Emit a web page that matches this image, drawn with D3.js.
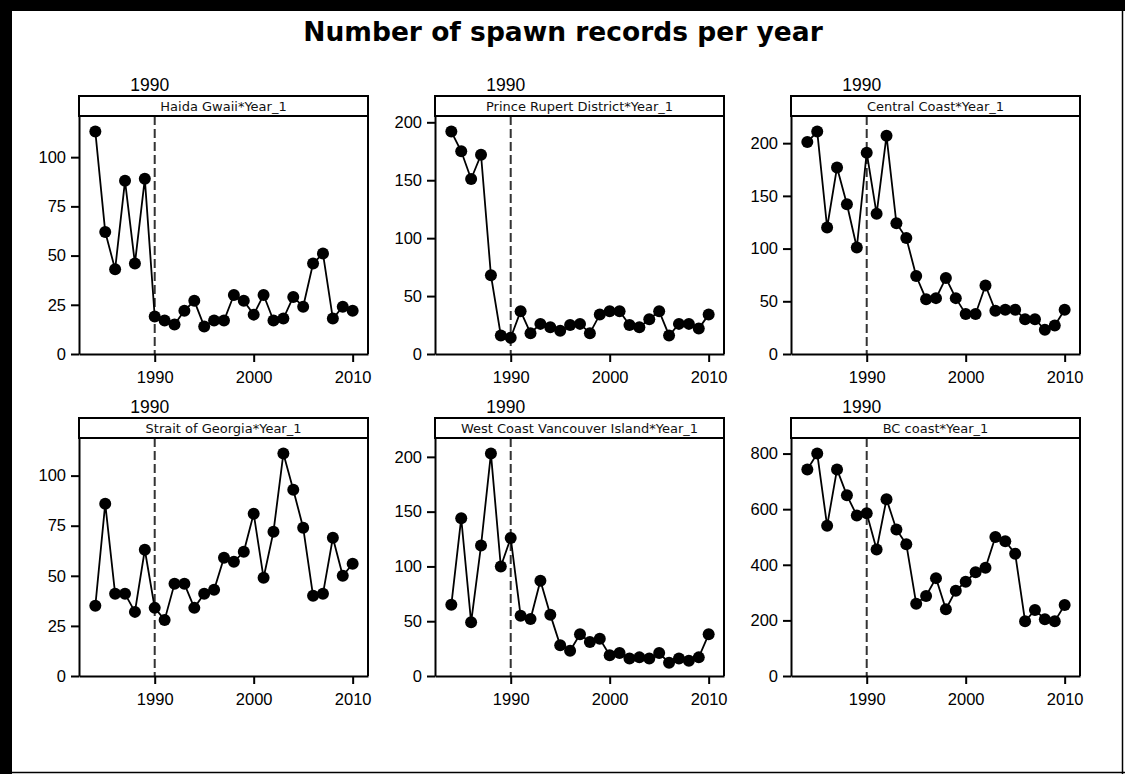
<!DOCTYPE html>
<html>
<head>
<meta charset="utf-8">
<script src="https://cdn.jsdelivr.net/npm/d3@7"></script>
<style>
  body { margin: 0; background: #fff; }
  svg { display: block; }
</style>
</head>
<body>
<svg id="chart" width="1125" height="774"></svg>
<script>
// Spawn record counts per survey year, by region
const years = [1984, 1985, 1986, 1987, 1988, 1989, 1990, 1991, 1992, 1993, 1994, 1995, 1996,
               1997, 1998, 1999, 2000, 2001, 2002, 2003, 2004, 2005, 2006, 2007, 2008, 2009, 2010];

const regionNames = ["Haida Gwaii", "Prince Rupert District", "Central Coast",
                     "Strait of Georgia", "West Coast Vancouver Island", "BC coast"];

const haidaGwaii   = [113, 62, 43, 88, 46, 89, 19, 17, 15, 22, 27, 14, 17, 17, 30, 27, 20, 30, 17, 18, 29, 24, 46, 51, 18, 24, 22];
const princeRupert = [192, 175, 151, 172, 68, 16, 14, 37, 18, 26, 23, 20, 25, 26, 18, 34, 37, 37, 25, 23, 30, 37, 16, 26, 26, 22, 34];
const centralCoast = [201, 211, 120, 177, 142, 101, 191, 133, 207, 124, 110, 74, 52, 53, 72, 53, 38, 38, 65, 41, 42, 42, 33, 33, 23, 27, 42];
const straitGeorgia = [35, 86, 41, 41, 32, 63, 34, 28, 46, 46, 34, 41, 43, 59, 57, 62, 81, 49, 72, 111, 93, 74, 40, 41, 69, 50, 56];
const westCoastVI  = [65, 144, 49, 119, 203, 100, 126, 55, 52, 87, 56, 28, 23, 38, 31, 34, 19, 21, 16, 17, 16, 21, 12, 16, 14, 17, 38];
const bcCoast      = [743, 800, 540, 743, 650, 577, 585, 455, 636, 527, 474, 260, 288, 352, 240, 307, 339, 373, 389, 500, 485, 440, 197, 237, 204, 197, 255];

const seriesValues = [haidaGwaii, princeRupert, centralCoast, straitGeorgia, westCoastVI, bcCoast];

const yTickSets = [
  [0, 25, 50, 75, 100],
  [0, 50, 100, 150, 200],
  [0, 50, 100, 150, 200],
  [0, 25, 50, 75, 100],
  [0, 50, 100, 150, 200],
  [0, 200, 400, 600, 800]
];
const xTickValues = [1990, 2000, 2010];
const referenceYear = 1990;
const titleText = "Number of spawn records per year";
const panelSuffix = "*Year_1";

// ---- layout ----
const svg = d3.select("#chart");
const colLeft = [79, 435, 791];
const rowTop = [96, 418];
const panelW = 289;
const headerH = 20;
const plotH = 238;

// page frame: heavy left/top edges, thin right/bottom edges
svg.append("rect").attr("x", 0).attr("y", 0).attr("width", 12).attr("height", 774).attr("fill", "#000");
svg.append("rect").attr("x", 0).attr("y", 0).attr("width", 1125).attr("height", 11).attr("fill", "#000");
svg.append("line").attr("x1", 1122.5).attr("x2", 1122.5).attr("y1", 0).attr("y2", 774)
  .attr("stroke", "#000").attr("stroke-width", 1.5);
svg.append("line").attr("x1", 0).attr("x2", 1125).attr("y1", 772.5).attr("y2", 772.5)
  .attr("stroke", "#000").attr("stroke-width", 1.5);

svg.append("text")
  .attr("x", 563).attr("y", 41)
  .attr("text-anchor", "middle")
  .attr("font-family", "DejaVu Sans, sans-serif")
  .attr("font-weight", "bold")
  .attr("font-size", 26.5)
  .text(titleText);

seriesValues.forEach((vals, i) => {
  const px = colLeft[i % 3];
  const py = rowTop[Math.floor(i / 3)];
  const g = svg.append("g").attr("transform", `translate(${px},${py + headerH})`);

  const x = d3.scaleLinear().domain([1982.35, 2011.55]).range([0, panelW]);
  const y = d3.scaleLinear().domain([0, d3.max(vals) * 1.07]).range([plotH, 0]);

  // reference line for the chosen year
  g.append("line")
    .attr("x1", x(referenceYear)).attr("x2", x(referenceYear))
    .attr("y1", 0).attr("y2", plotH)
    .attr("stroke", "#333").attr("stroke-width", 2)
    .attr("stroke-dasharray", "9,4");

  // reference label above the panel
  svg.append("text")
    .attr("x", px + x(referenceYear) - 5).attr("y", py - 5)
    .attr("text-anchor", "middle")
    .attr("font-family", "Liberation Sans, Arial, sans-serif")
    .attr("font-size", 17.5)
    .text(referenceYear);

  // series line and markers
  const pts = years.map((yr, j) => [yr, vals[j]]);
  g.append("path")
    .datum(pts)
    .attr("fill", "none")
    .attr("stroke", "#000")
    .attr("stroke-width", 1.8)
    .attr("d", d3.line().x(d => x(d[0])).y(d => y(d[1])));

  g.selectAll("circle.pt")
    .data(pts)
    .join("circle")
    .attr("class", "pt")
    .attr("cx", d => x(d[0]))
    .attr("cy", d => y(d[1]))
    .attr("r", 6)
    .attr("fill", "#000");

  // axes
  const yAxis = g.append("g")
    .call(d3.axisLeft(y).tickValues(yTickSets[i]).tickSize(8).tickSizeOuter(0).tickPadding(5));
  const xAxis = g.append("g")
    .attr("transform", `translate(0,${plotH})`)
    .call(d3.axisBottom(x).tickValues(xTickValues).tickFormat(d3.format("d"))
      .tickSize(8).tickSizeOuter(0).tickPadding(9));

  [yAxis, xAxis].forEach(a => {
    a.select(".domain").attr("stroke", "#000").attr("stroke-width", 2);
    a.selectAll(".tick line").attr("stroke", "#000").attr("stroke-width", 2);
    a.selectAll(".tick text")
      .attr("font-family", "Liberation Sans, Arial, sans-serif")
      .attr("font-size", 16.5)
      .attr("fill", "#000");
  });

  // right edge of the panel frame
  g.append("line")
    .attr("x1", panelW).attr("x2", panelW)
    .attr("y1", 0).attr("y2", plotH)
    .attr("stroke", "#000").attr("stroke-width", 2);

  // panel header strip
  svg.append("rect")
    .attr("x", px).attr("y", py)
    .attr("width", panelW).attr("height", headerH)
    .attr("fill", "#fff")
    .attr("stroke", "#000").attr("stroke-width", 2);
  svg.append("text")
    .attr("x", px + panelW / 2).attr("y", py + 15)
    .attr("text-anchor", "middle")
    .attr("font-family", "DejaVu Sans, sans-serif")
    .attr("font-size", 13)
    .attr("fill", "#111")
    .text(regionNames[i] + panelSuffix);
});
</script>
</body>
</html>
